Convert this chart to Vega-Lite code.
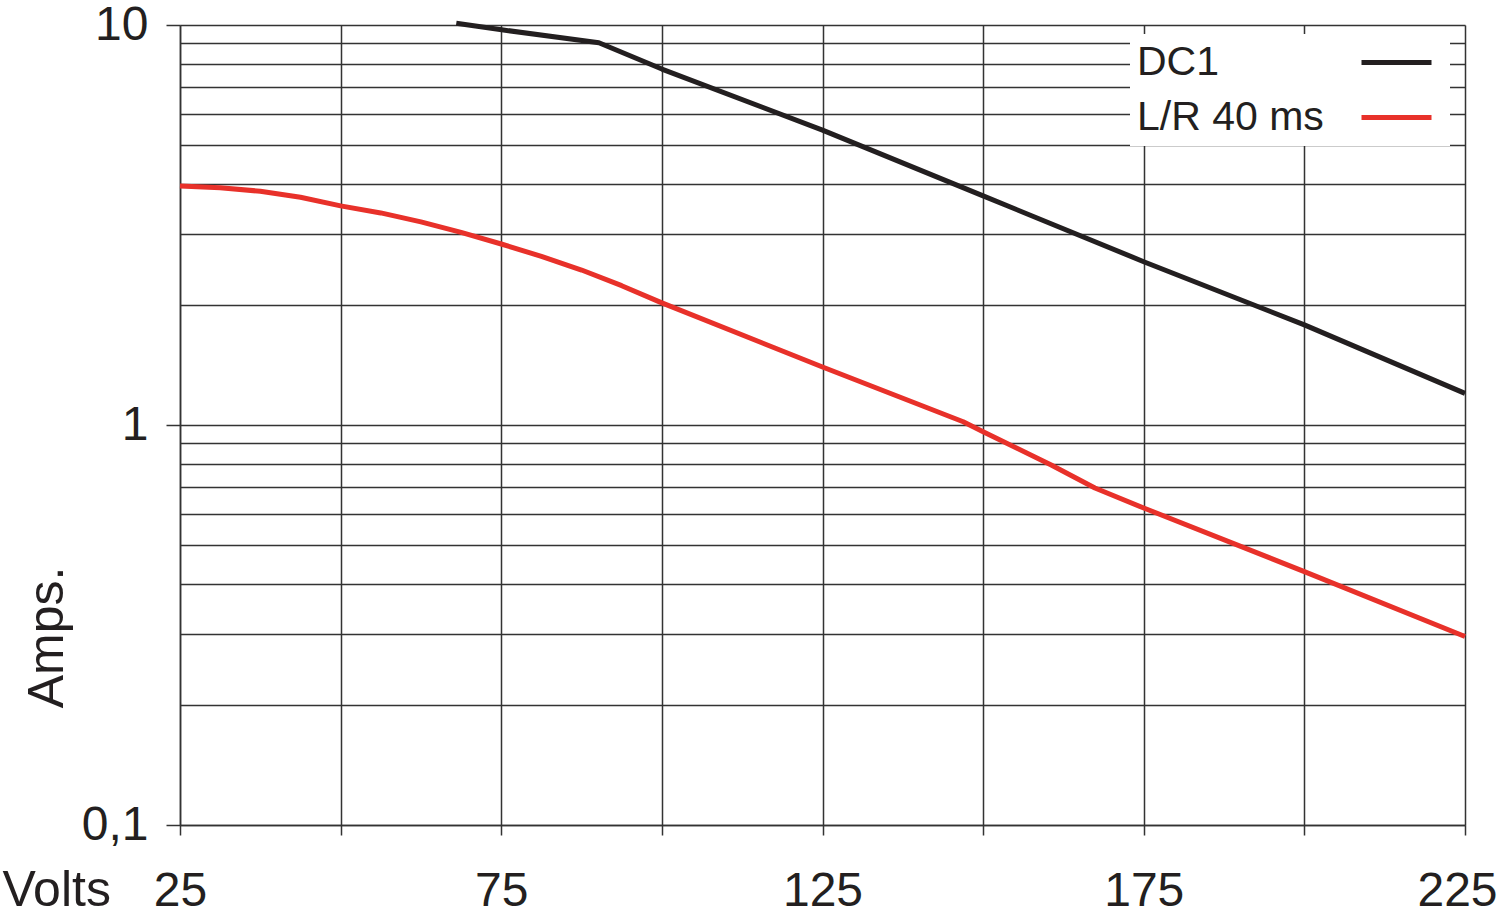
{
  "$schema": "https://vega.github.io/schema/vega-lite/v6.json",
  "autosize": {"type": "none"},
  "width": 1285,
  "height": 800,
  "padding": {"left": 180, "top": 25, "right": 35, "bottom": 92},
  "background": "white",
  "config": {
    "view": {"stroke": null},
    "font": "Liberation Sans"
  },
  "data": {
    "values": [
      {"series": "DC1", "volts": 68, "amps": 10.1},
      {"series": "DC1", "volts": 74.8, "amps": 9.74},
      {"series": "DC1", "volts": 90.2, "amps": 9.03},
      {"series": "DC1", "volts": 100, "amps": 7.76},
      {"series": "DC1", "volts": 125, "amps": 5.46},
      {"series": "DC1", "volts": 150, "amps": 3.74},
      {"series": "DC1", "volts": 175, "amps": 2.56},
      {"series": "DC1", "volts": 200, "amps": 1.78},
      {"series": "DC1", "volts": 225, "amps": 1.2},
      {"series": "L/R 40 ms", "volts": 25, "amps": 3.96},
      {"series": "L/R 40 ms", "volts": 31.25, "amps": 3.92},
      {"series": "L/R 40 ms", "volts": 37.5, "amps": 3.84},
      {"series": "L/R 40 ms", "volts": 43.75, "amps": 3.71},
      {"series": "L/R 40 ms", "volts": 50, "amps": 3.53},
      {"series": "L/R 40 ms", "volts": 56.25, "amps": 3.39},
      {"series": "L/R 40 ms", "volts": 62.5, "amps": 3.22},
      {"series": "L/R 40 ms", "volts": 68.75, "amps": 3.03},
      {"series": "L/R 40 ms", "volts": 75, "amps": 2.835},
      {"series": "L/R 40 ms", "volts": 81.25, "amps": 2.64},
      {"series": "L/R 40 ms", "volts": 87.5, "amps": 2.44},
      {"series": "L/R 40 ms", "volts": 93.75, "amps": 2.23},
      {"series": "L/R 40 ms", "volts": 100, "amps": 2.02},
      {"series": "L/R 40 ms", "volts": 125, "amps": 1.396},
      {"series": "L/R 40 ms", "volts": 146.9, "amps": 1.019},
      {"series": "L/R 40 ms", "volts": 150, "amps": 0.962},
      {"series": "L/R 40 ms", "volts": 160.6, "amps": 0.794},
      {"series": "L/R 40 ms", "volts": 167.4, "amps": 0.696},
      {"series": "L/R 40 ms", "volts": 175, "amps": 0.62},
      {"series": "L/R 40 ms", "volts": 200, "amps": 0.43},
      {"series": "L/R 40 ms", "volts": 225, "amps": 0.296}
    ]
  },
  "mark": {"type": "line", "strokeWidth": 5, "strokeCap": "butt", "strokeJoin": "round"},
  "encoding": {
    "x": {
      "field": "volts",
      "type": "quantitative",
      "scale": {"domain": [25, 225], "nice": false, "zero": false},
      "axis": {
        "values": [25, 50, 75, 100, 125, 150, 175, 200, 225],
        "labelExpr": "datum.value % 50 == 25 ? datum.label : ''",
        "labelFlush": false,
        "labelOverlap": false,
        "labelFontSize": 48,
        "labelColor": "#231f20",
        "labelBaseline": "alphabetic",
        "labelPadding": 70,
        "labelOffset": {"condition": {"test": "datum.value == 225", "value": -8}, "value": 0},
        "tickSize": 10,
        "tickColor": "#333333",
        "tickWidth": 1.5,
        "domainColor": "#333333",
        "domainWidth": 1.5,
        "grid": true,
        "gridColor": "#333333",
        "gridWidth": 1.5,
        "gridOpacity": 1,
        "title": "Volts",
        "titleFontSize": 50,
        "titleFontWeight": "normal",
        "titleColor": "#231f20",
        "titleAlign": "left",
        "titleBaseline": "alphabetic",
        "titleX": -178,
        "titleY": 80
      }
    },
    "y": {
      "field": "amps",
      "type": "quantitative",
      "scale": {"type": "log", "domain": [0.1, 10], "nice": false},
      "axis": {
        "values": [0.1, 0.2, 0.3, 0.4, 0.5, 0.6, 0.7, 0.8, 0.9, 1, 2, 3, 4, 5, 6, 7, 8, 9, 10],
        "labelExpr": "datum.value == 0.1 ? '0,1' : datum.value == 1 ? '1' : datum.value == 10 ? '10' : ''",
        "labelOverlap": false,
        "labelFlush": false,
        "labelFontSize": 48,
        "labelColor": "#231f20",
        "labelPadding": 18,
        "tickSize": 14,
        "tickColor": "#333333",
        "tickWidth": 1.5,
        "tickOpacity": {"condition": {"test": "datum.value == 0.1 || datum.value == 1 || datum.value == 10", "value": 1}, "value": 0},
        "domainColor": "#333333",
        "domainWidth": 1.5,
        "grid": true,
        "gridColor": "#333333",
        "gridWidth": 1.5,
        "gridOpacity": 1,
        "title": "Amps.",
        "titleFontSize": 50,
        "titleFontWeight": "normal",
        "titleColor": "#231f20",
        "titleAngle": -90,
        "titleAlign": "center",
        "titleBaseline": "alphabetic",
        "titleX": -118,
        "titleY": 612
      }
    },
    "color": {
      "field": "series",
      "type": "nominal",
      "scale": {"domain": ["DC1", "L/R 40 ms"], "range": ["#231f20", "#e8312a"]},
      "legend": {
        "title": null,
        "orient": "none",
        "legendX": 950,
        "legendY": 9,
        "symbolType": "M 20.3 0 H 27.3",
        "symbolSize": 400,
        "symbolStrokeWidth": 5,
        "symbolOffset": 0,
        "labelOffset": -42,
        "labelFontSize": 41,
        "labelColor": "#231f20",
        "labelLimit": 500,
        "padding": 8,
        "rowPadding": 13,
        "fillColor": "white",
        "strokeColor": null
      }
    }
  }
}
